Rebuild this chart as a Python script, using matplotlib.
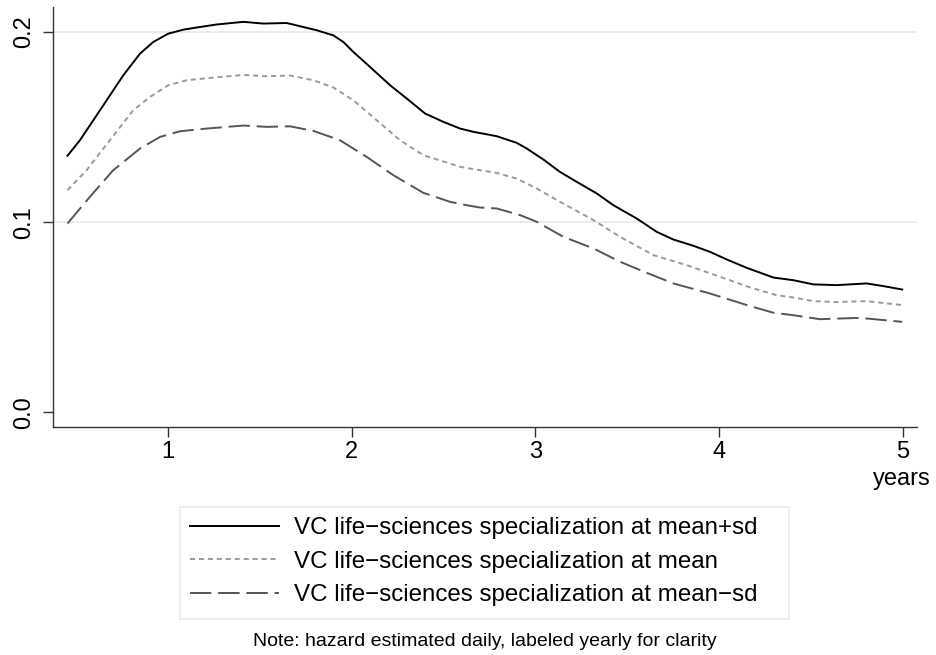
import numpy as np
import matplotlib
matplotlib.use('Agg')
import matplotlib.pyplot as plt
from matplotlib.patches import Rectangle

plt.rcParams['font.family'] = ['Liberation Sans', 'DejaVu Sans']

# hazard
years_hi = [0.451, 0.519, 0.628, 0.755, 0.846, 0.918, 1.0, 1.082, 1.173, 1.263, 1.409,
            1.518, 1.645, 1.718, 1.808, 1.899, 1.954, 2.008, 2.099, 2.208, 2.299, 2.399,
            2.499, 2.59, 2.662, 2.789, 2.898, 2.953, 3.044, 3.134, 3.225, 3.334, 3.425,
            3.552, 3.661, 3.751, 3.86, 3.951, 4.042, 4.151, 4.296, 4.405, 4.514, 4.641,
            4.804, 4.895, 4.998]
haz_hi = [0.1349, 0.1431, 0.1588, 0.1772, 0.1886, 0.1947, 0.1991, 0.2012, 0.2026, 0.2039,
          0.2053, 0.2044, 0.2047, 0.2030, 0.2009, 0.1982, 0.1947, 0.1895, 0.1816, 0.1720,
          0.1650, 0.1571, 0.1527, 0.1492, 0.1475, 0.1452, 0.1417, 0.1387, 0.1329, 0.1264,
          0.1212, 0.1151, 0.1089, 0.1019, 0.0949, 0.0909, 0.0876, 0.0844, 0.0804, 0.0760,
          0.0709, 0.0695, 0.0673, 0.0669, 0.0678, 0.0664, 0.0646]

years_mid = [0.451, 0.555, 0.682, 0.809, 0.9, 1.0, 1.1, 1.245, 1.409, 1.536, 1.663, 1.79,
             1.899, 2.008, 2.135, 2.262, 2.39, 2.535, 2.59, 2.698, 2.789, 2.898, 3.007,
             3.134, 3.316, 3.461, 3.642, 3.824, 4.005, 4.169, 4.314, 4.405, 4.514, 4.641,
             4.804, 4.998]
haz_mid = [0.1168, 0.1273, 0.1431, 0.1588, 0.1658, 0.1720, 0.1746, 0.1760, 0.1774, 0.1767,
           0.1771, 0.1746, 0.1708, 0.1641, 0.1536, 0.1431, 0.1352, 0.1308, 0.1291, 0.1273,
           0.1259, 0.1229, 0.1177, 0.1107, 0.1011, 0.0923, 0.0827, 0.0774, 0.0713, 0.0657,
           0.0616, 0.0604, 0.0585, 0.0580, 0.0585, 0.0564]

years_lo = [0.451, 0.573, 0.7, 0.846, 0.955, 1.064, 1.209, 1.409, 1.536, 1.663, 1.79, 1.935,
            2.081, 2.226, 2.39, 2.535, 2.626, 2.698, 2.789, 2.917, 3.007, 3.152, 3.316,
            3.461, 3.606, 3.751, 3.951, 4.169, 4.296, 4.405, 4.55, 4.768, 4.998]
haz_lo = [0.0993, 0.1133, 0.1273, 0.1387, 0.1448, 0.1478, 0.1492, 0.1508, 0.1501, 0.1504,
          0.1480, 0.1431, 0.1343, 0.1247, 0.1154, 0.1107, 0.1089, 0.1077, 0.1072, 0.1037,
          0.1002, 0.0923, 0.0862, 0.0792, 0.0734, 0.0678, 0.0625, 0.0559, 0.0524, 0.0511,
          0.0490, 0.0497, 0.0476]

labels = ['VC life\u2212sciences specialization at mean+sd',
          'VC life\u2212sciences specialization at mean',
          'VC life\u2212sciences specialization at mean\u2212sd']

fs = 17
grid_col = '#e4edf0'

fig = plt.figure(figsize=(9.36, 6.55), dpi=100)
ax = fig.add_axes([0.0566, 0.348, 0.9234, 0.641])

ax.plot(years_hi, haz_hi, color='black', lw=1.4, label=labels[0])
ax.plot(years_mid, haz_mid, color='#9a9a9a', lw=1.4, dashes=(2.6, 2.0), label=labels[1])
ax.plot(years_lo, haz_lo, color='#555555', lw=1.4, dashes=(11, 3.5), label=labels[2])

for g in [0.1, 0.2]:
    ax.axhline(g, color=grid_col, lw=1.3, zorder=0)

ax.set_xlim(0.372, 5.08)
ax.set_ylim(-0.0077, 0.213)
ax.set_xticks([1, 2, 3, 4, 5])
ax.set_yticks([0.0, 0.1, 0.2])
ax.set_yticklabels(['0.0', '0.1', '0.2'], rotation=90, va='center')
ax.tick_params(labelsize=fs, length=7, width=1, color='#333333')
ax.tick_params(axis='x', pad=3)
ax.tick_params(axis='y', pad=6)
for s in ['top', 'right']:
    ax.spines[s].set_visible(False)
for s in ['left', 'bottom']:
    ax.spines[s].set_color('#333333')
    ax.spines[s].set_linewidth(1)

fig.text(931 / 936, 1 - 485 / 655, 'years', ha='right', va='baseline', fontsize=fs)

# legend box, Stata style
fig.patches.append(Rectangle((180 / 936, 1 - 619 / 655), 609 / 936, 112 / 655,
                             transform=fig.transFigure, facecolor='white',
                             edgecolor=grid_col, lw=1.2, zorder=0))
leg = fig.legend(loc='upper left', bbox_to_anchor=(190 / 936, 1 - 517 / 655),
                 fontsize=17.4, frameon=False, borderpad=0, borderaxespad=0,
                 handlelength=3.7, handletextpad=0.6, labelspacing=0.48)

fig.text(485 / 936, 1 - 641 / 655, 'Note: hazard estimated daily, labeled yearly for clarity',
         ha='center', va='center', fontsize=14)

fig.savefig('out.png', dpi=100)
